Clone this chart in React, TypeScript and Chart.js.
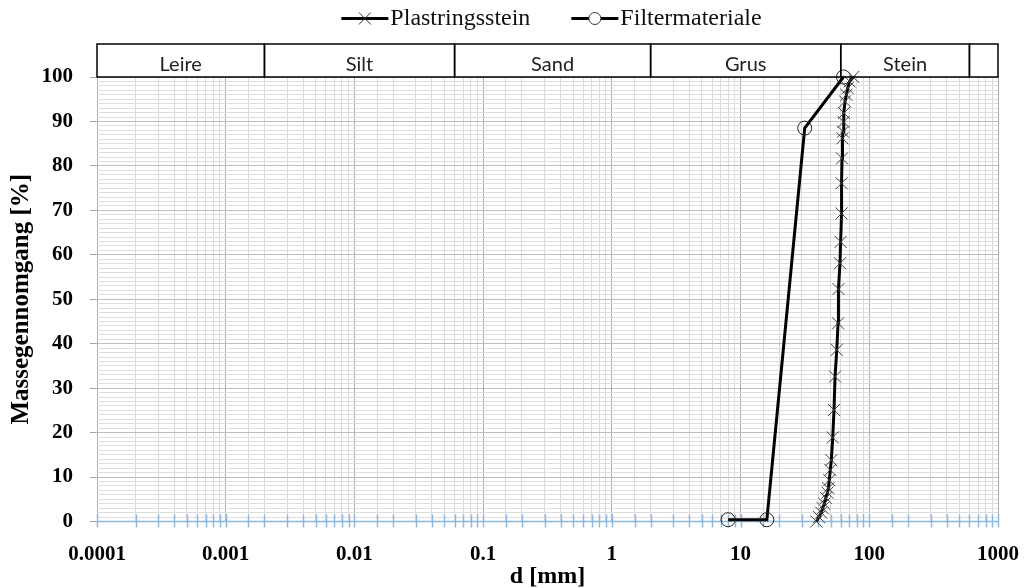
import { useEffect, useRef } from 'react';
import { Chart, registerables } from 'chart.js';

Chart.register(...registerables);

// ---- data ----
const seriesNames = ['Plastringsstein', 'Filtermateriale'];

const plastX = [38.8, 40.7, 42.3, 43.5, 44.7, 46.0, 47.3, 48.1, 48.9, 49.8, 50.7, 52.0, 53.2, 54.2, 55.9, 57.2, 57.6, 59.2, 59.9, 60.9, 60.9, 61.4, 61.9, 62.5, 63.1, 63.6, 64.8, 66.4, 68.0, 70.3, 75.0];
const plastY = [0, 1, 2, 3, 4, 5.3, 6.5, 7.5, 9.3, 11.6, 13.8, 18.9, 25.1, 32.6, 38.6, 44.6, 52.3, 58.1, 62.9, 69.3, 76.1, 81.7, 86.2, 87.7, 89.9, 91.9, 94.5, 96, 97.5, 99, 100];

const filterX = [8, 16, 31.5, 63];
const filterY = [0.4, 0.4, 88.5, 100];

const xTickLabels = ['0.0001', '0.001', '0.01', '0.1', '1', '10', '100', '1000'];
const yTickLabels = ['0', '10', '20', '30', '40', '50', '60', '70', '80', '90', '100'];

const classBounds = [0.0001, 0.002, 0.06, 2, 60, 600, 1000];
const classNames = ['Leire', 'Silt', 'Sand', 'Grus', 'Stein', ''];

const xTitle = 'd [mm]';
const yTitle = 'Massegennomgang [%]';

// ---- styles ----
const SERIF = '"Liberation Serif", "Times New Roman", serif';
const SANS = 'Lato, "Noto Sans", sans-serif';

const isDecade = (v: number) => {
  const l = Math.log10(v);
  return Math.abs(l - Math.round(l)) < 1e-6;
};

const axisPlugin = {
  id: 'blueAxis',
  beforeDatasetsDraw(chart: any) {
    const { ctx, chartArea } = chart;
    const xs = chart.scales.x;
    const b = chartArea.bottom;
    ctx.save();
    ctx.strokeStyle = '#8db8e0';
    ctx.lineWidth = 1.5;
    ctx.beginPath();
    ctx.moveTo(chartArea.left, b);
    ctx.lineTo(chartArea.right, b);
    ctx.stroke();
    xs.ticks.forEach((t: any) => {
      const px = Math.round(xs.getPixelForValue(t.value)) + 0.5;
      ctx.beginPath();
      ctx.moveTo(px, b - 7);
      ctx.lineTo(px, b + 6);
      ctx.stroke();
    });
    ctx.restore();
  },
};

const bandPlugin = {
  id: 'classBand',
  afterDraw(chart: any) {
    const { ctx, chartArea } = chart;
    const xs = chart.scales.x;
    const top = chartArea.top - 33;
    const bottom = chartArea.top;
    ctx.save();
    ctx.strokeStyle = '#000';
    ctx.lineWidth = 1.5;
    ctx.font = `20px ${SANS}`;
    ctx.fillStyle = '#222';
    ctx.textAlign = 'center';
    ctx.textBaseline = 'alphabetic';
    for (let i = 0; i < classNames.length; i++) {
      const x0 = xs.getPixelForValue(classBounds[i]);
      const x1 = xs.getPixelForValue(classBounds[i + 1]);
      ctx.strokeRect(x0, top, x1 - x0, bottom - top);
      if (classNames[i]) ctx.fillText(classNames[i], (x0 + x1) / 2, bottom - 6.5);
    }
    ctx.restore();
  },
};

const legendPlugin = {
  id: 'customLegend',
  afterDraw(chart: any) {
    const { ctx, chartArea } = chart;
    ctx.save();
    ctx.font = `24px ${SERIF}`;
    const lineLen = 47;
    const gapText = 2;
    const gapItems = 41;
    const w1 = ctx.measureText(seriesNames[0]).width;
    const w2 = ctx.measureText(seriesNames[1]).width;
    const total = lineLen + gapText + w1 + gapItems + lineLen + gapText + w2;
    const cx = (chartArea.left + chartArea.right) / 2 + 4;
    let x = cx - total / 2;
    const y = 18.5;
    const drawItem = (name: string, w: number, marker: 'cross' | 'circle') => {
      ctx.strokeStyle = '#000';
      ctx.lineWidth = 3;
      ctx.beginPath();
      ctx.moveTo(x, y);
      ctx.lineTo(x + lineLen, y);
      ctx.stroke();
      const mx = x + lineLen / 2;
      ctx.lineWidth = 1;
      ctx.strokeStyle = '#333';
      if (marker === 'cross') {
        const r = 6;
        ctx.beginPath();
        ctx.moveTo(mx - r, y - r);
        ctx.lineTo(mx + r, y + r);
        ctx.moveTo(mx - r, y + r);
        ctx.lineTo(mx + r, y - r);
        ctx.stroke();
      } else {
        ctx.fillStyle = '#fff';
        ctx.beginPath();
        ctx.arc(mx, y, 6, 0, Math.PI * 2);
        ctx.fill();
        ctx.stroke();
      }
      ctx.fillStyle = '#111';
      ctx.textAlign = 'left';
      ctx.textBaseline = 'middle';
      ctx.fillText(name, x + lineLen + gapText, y);
      x += lineLen + gapText + w + gapItems;
    };
    drawItem(seriesNames[0], w1, 'cross');
    drawItem(seriesNames[1], w2, 'circle');
    ctx.restore();
  },
};

export default function App() {
  const canvasRef = useRef<HTMLCanvasElement | null>(null);

  useEffect(() => {
    const canvas = canvasRef.current;
    if (!canvas) return;
    const chart = new Chart(canvas, {
      type: 'scatter',
      data: {
        datasets: [
          {
            label: seriesNames[0],
            data: plastX.map((x, i) => ({ x, y: plastY[i] })),
            showLine: true,
            borderColor: '#000',
            borderWidth: 3,
            pointStyle: 'crossRot',
            pointRadius: 8.5,
            pointBorderColor: '#404040',
            pointBorderWidth: 1,
            pointBackgroundColor: 'transparent',
            tension: 0,
            clip: false,
          } as any,
          {
            label: seriesNames[1],
            data: filterX.map((x, i) => ({ x, y: filterY[i] })),
            showLine: true,
            borderColor: '#000',
            borderWidth: 3,
            pointStyle: 'circle',
            pointRadius: 7,
            pointBorderColor: '#222',
            pointBorderWidth: 1,
            pointBackgroundColor: 'transparent',
            tension: 0,
            clip: false,
          } as any,
        ],
      },
      options: {
        responsive: false,
        animation: false,
        layout: { padding: { top: 77, right: 27, bottom: 0, left: 0 } },
        plugins: {
          legend: { display: false },
          tooltip: { enabled: false },
        },
        scales: {
          x: {
            type: 'logarithmic',
            min: 0.0001,
            max: 1000,
            border: { display: false },
            grid: {
              color: (c: any) => (c.tick && isDecade(c.tick.value) ? '#adadad' : '#d9d9d9'),
              lineWidth: 1,
              drawTicks: false,
            },
            ticks: {
              autoSkip: false,
              maxRotation: 0,
              minRotation: 0,
              padding: 20,
              color: '#000',
              font: { family: SERIF, size: 21, weight: 'bold' },
              callback: (value: any) => {
                const v = Number(value);
                const lab = xTickLabels.find((s) => Math.abs(Number(s) / v - 1) < 1e-6);
                return lab ?? '';
              },
            },
            title: {
              display: true,
              text: xTitle,
              color: '#000',
              font: { family: SERIF, size: 24, weight: 'bold' },
              padding: { top: 0, bottom: -3 },
            },
            afterFit: (scale: any) => {
              scale.height = 66.5;
              scale.paddingLeft = 0;
              scale.paddingRight = 0;
            },
          } as any,
          y: {
            type: 'linear',
            min: 0,
            max: 100,
            border: { display: false },
            grid: {
              color: (c: any) => (c.tick && c.tick.value % 10 === 0 ? '#bfbfbf' : '#dedede'),
              tickColor: (c: any) => (c.tick && c.tick.value % 10 === 0 ? '#a6a6a6' : 'rgba(0,0,0,0)'),
              lineWidth: 1,
              drawTicks: true,
              tickLength: 7,
            },
            ticks: {
              stepSize: 1,
              maxTicksLimit: 101,
              autoSkip: false,
              padding: 17,
              color: '#000',
              font: { family: SERIF, size: 21, weight: 'bold' },
              callback: (value: any) => {
                const s = String(value);
                return yTickLabels.includes(s) ? s : '';
              },
            },
            title: {
              display: true,
              text: yTitle,
              color: '#000',
              font: { family: SERIF, size: 25, weight: 'bold' },
              padding: { top: 7, bottom: 0 },
            },
            afterFit: (scale: any) => {
              scale.width = 97;
            },
          } as any,
        },
      },
      plugins: [axisPlugin, bandPlugin, legendPlugin],
    });
    return () => chart.destroy();
  }, []);

  return (
    <div style={{ position: 'fixed', left: 0, top: 0, width: 1025, height: 588, background: '#fff' }}>
      <canvas ref={canvasRef} width={1025} height={588} style={{ display: 'block', width: 1025, height: 588 }} />
    </div>
  );
}
